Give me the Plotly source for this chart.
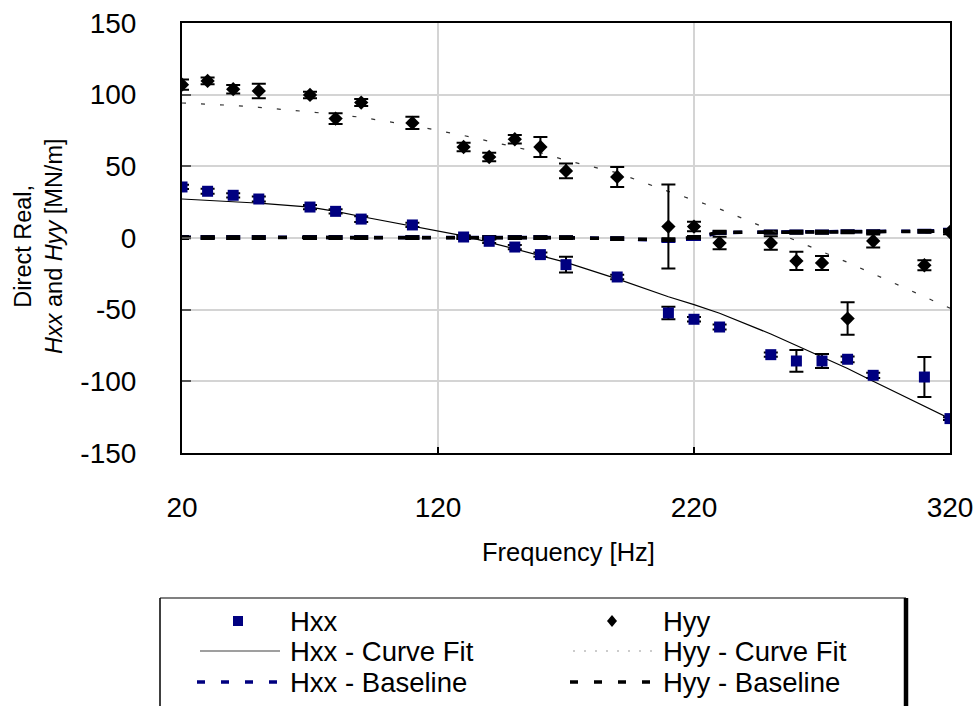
import plotly.graph_objects as go

# Measured frequencies [Hz]
freq = [20, 30, 40, 50, 70, 80, 90, 110, 130, 140, 150, 160, 170, 190,
        210, 220, 230, 250, 260, 270, 280, 290, 310, 320]

# Direct real stiffness Hxx [MN/m] and uncertainty
hxx = [35.6, 32.6, 29.8, 27.2, 21.6, 18.6, 13.2, 9.1, 0.7, -2.3, -6.3, -11.6,
       -18.6, -27.2, -52.3, -56.7, -62.1, -81.4, -85.8, -85.8, -84.6, -95.8,
       -97.0, -126.0]
hxx_err = [1.5, 1.8, 1.5, 1.8, 1.5, 1.5, 2.0, 1.5, 1.2, 1.2, 1.5, 1.5,
           5.5, 1.5, 4.3, 1.5, 1.8, 1.5, 7.6, 4.9, 2.0, 1.8, 14.0, 1.0]

# Direct real stiffness Hyy [MN/m] and uncertainty
hyy = [107.0, 109.6, 103.8, 102.6, 99.8, 83.3, 94.5, 80.3, 63.5, 56.5, 68.9,
       63.5, 46.8, 42.6, 8.0, 8.0, -3.5, -3.5, -16.0, -17.4, -56.2, -2.1,
       -19.0, 4.2]
hyy_err = [3.6, 2.3, 2.9, 5.1, 2.3, 3.7, 2.4, 4.3, 3.0, 3.0, 3.0, 7.0,
           5.1, 7.0, 29.3, 3.3, 4.3, 4.7, 6.4, 4.9, 11.3, 4.5, 3.5, 1.5]

# Curve fits evaluated at the measured frequencies
hxx_fit = [27.2, 26.3, 25.2, 24.3, 21.5, 18.6, 15.0, 8.5, 1.5, -3.0, -7.5,
           -12.0, -17.0, -28.5, -41.0, -46.5, -52.5, -67.0, -75.0, -83.0,
           -91.0, -100.0, -117.0, -126.0]
hyy_fit = [94.2, 93.5, 92.5, 91.2, 88.0, 86.3, 84.2, 78.5, 71.5, 67.5, 63.5,
           59.5, 54.2, 45.5, 32.5, 26.5, 20.3, 5.5, -2.0, -9.0, -17.0, -25.0,
           -41.0, -49.0]

# Baseline (housing alone) values and their uncertainty
hxx_base = [0.5, 0.5, 0.5, 0.5, 0.5, 0.5, 0.5, 0.5, 0.5, 0.5, 0.5, 0.5,
            0.3, -0.5, -1.8, -0.5, 3.8, 4.2, 4.2, 4.2, 4.5, 4.5, 4.8, 5.5]
hyy_base = [0.3, 0.3, 0.3, 0.3, 0.3, 0.3, 0.3, 0.3, 0.3, 0.3, 0.3, 0.3,
            0.2, -0.5, -1.2, 0.5, 4.0, 4.0, 4.0, 4.0, 4.3, 4.3, 4.6, 5.0]
base_err = [0.8, 0.8, 0.8, 0.8, 0.8, 0.8, 0.8, 0.8, 0.8, 0.8, 0.8, 0.8,
            0.8, 0.8, 0.8, 0.8, 0.8, 0.8, 0.8, 0.8, 0.8, 0.8, 0.8, 0.8]

x_ticks = [20, 120, 220, 320]
y_ticks = [-150, -100, -50, 0, 50, 100, 150]
y_tick_labels = ["-150", "-100", "-50", "0", "50", "100", "150"]

NAVY = "#000080"
FONT = "Arial, Liberation Sans, sans-serif"

# figure geometry (pixels)
FW, FH = 977, 706
L, R, T, B = 182, 950, 23, 453
PW, PH = R - L, B - T


def xp(px):
    return (px - L) / PW


def yp(py):
    return (B - py) / PH


fig = go.Figure()

fig.add_trace(go.Scatter(
    x=freq, y=hxx_base, mode="lines", name="Hxx - Baseline",
    line=dict(color=NAVY, width=3.5, dash="9px,15px"),
    error_y=dict(type="data", array=base_err, color=NAVY, thickness=2.5, width=7),
))
fig.add_trace(go.Scatter(
    x=freq, y=hyy_base, mode="lines", name="Hyy - Baseline",
    line=dict(color="black", width=3.5, dash="9px,15px"),
    error_y=dict(type="data", array=base_err, color="black", thickness=2.5, width=7),
))
fig.add_trace(go.Scatter(
    x=freq, y=hxx_fit, mode="lines", name="Hxx - Curve Fit",
    line=dict(color="black", width=1.2),
))
fig.add_trace(go.Scatter(
    x=freq, y=hyy_fit, mode="lines", name="Hyy - Curve Fit",
    line=dict(color="#333333", width=1.2, dash="4px,15px"),
))
fig.add_trace(go.Scatter(
    x=freq, y=hxx, mode="markers", name="Hxx",
    marker=dict(symbol="square", size=11, color=NAVY),
    error_y=dict(type="data", array=hxx_err, color="black", thickness=2, width=7),
))
fig.add_trace(go.Scatter(
    x=freq, y=hyy, mode="markers", name="Hyy",
    marker=dict(symbol="diamond", size=11, color="black"),
    error_y=dict(type="data", array=hyy_err, color="black", thickness=2, width=7),
))

fig.update_xaxes(
    range=[20, 320], tickvals=x_ticks, ticks="inside", ticklen=6,
    tickwidth=2, tickcolor="black", showline=True, linewidth=2,
    linecolor="black", mirror=True, showgrid=True, gridcolor="#d4d4d4",
    gridwidth=1.5, zeroline=False, ticklabelstandoff=28,
    tickfont=dict(family=FONT, size=28, color="black"),
)
fig.update_yaxes(
    range=[-150, 150], tickvals=y_ticks, ticktext=y_tick_labels,
    ticks="inside", ticklen=9,
    tickwidth=2, tickcolor="#555555", showline=True, linewidth=2,
    linecolor="black", mirror=True, showgrid=True, gridcolor="#d4d4d4",
    gridwidth=1.5, zeroline=False, ticklabelstandoff=38,
    tickfont=dict(family=FONT, size=28, color="black"),
)

annotations = [
    dict(text="Frequency [Hz]", x=xp(568), y=yp(552), xref="paper",
         yref="paper", xanchor="center", yanchor="middle", showarrow=False,
         font=dict(family=FONT, size=25.5, color="black")),
    dict(text="Direct Real,<br><i>Hxx</i> and <i>Hyy</i> [MN/m]",
         x=xp(39), y=yp(246), xref="paper", yref="paper", textangle=-90,
         xanchor="center", yanchor="middle", showarrow=False,
         font=dict(family=FONT, size=23.5, color="black")),
]

# legend box
LEG_TOP = 598
shapes = [
    dict(type="line", xref="paper", yref="paper", x0=xp(160), x1=xp(906),
         y0=yp(LEG_TOP), y1=yp(LEG_TOP), line=dict(color="#808080", width=2)),
    dict(type="line", xref="paper", yref="paper", x0=xp(160), x1=xp(160),
         y0=yp(LEG_TOP), y1=yp(FH + 5), line=dict(color="black", width=1.5)),
    dict(type="line", xref="paper", yref="paper", x0=xp(906), x1=xp(906),
         y0=yp(LEG_TOP), y1=yp(FH + 5), line=dict(color="black", width=4.5)),
]

rows = [621, 651, 682]
col_txt = [288, 661]
labels = [("Hxx", "Hyy"), ("Hxx - Curve Fit", "Hyy - Curve Fit"),
          ("Hxx - Baseline", "Hyy - Baseline")]

# row 1: marker samples
r = rows[0]
shapes.append(dict(type="rect", xref="paper", yref="paper",
                   x0=xp(233), x1=xp(243), y0=yp(r - 5), y1=yp(r + 5),
                   fillcolor=NAVY, line=dict(width=0)))
cx = 612
shapes.append(dict(type="path", xref="paper", yref="paper",
                   path=(f"M {xp(cx)},{yp(r - 6)} L {xp(cx + 5)},{yp(r)} "
                         f"L {xp(cx)},{yp(r + 6)} L {xp(cx - 5)},{yp(r)} Z"),
                   fillcolor="black", line=dict(width=0)))
# row 2: curve fit samples
r = rows[1]
shapes.append(dict(type="line", xref="paper", yref="paper", x0=xp(200),
                   x1=xp(280), y0=yp(r), y1=yp(r),
                   line=dict(color="#7f7f7f", width=1.5)))
shapes.append(dict(type="line", xref="paper", yref="paper", x0=xp(573),
                   x1=xp(655), y0=yp(r), y1=yp(r),
                   line=dict(color="#9a9a9a", width=1.2, dash="2px,9px")))
# row 3: baseline samples
r = rows[2]
shapes.append(dict(type="line", xref="paper", yref="paper", x0=xp(197),
                   x1=xp(280), y0=yp(r), y1=yp(r),
                   line=dict(color=NAVY, width=3.5, dash="8px,16px")))
shapes.append(dict(type="line", xref="paper", yref="paper", x0=xp(570),
                   x1=xp(653), y0=yp(r), y1=yp(r),
                   line=dict(color="black", width=3.5, dash="8px,16px")))

for r, (a, b) in zip(rows, labels):
    for cx, t in zip(col_txt, (a, b)):
        annotations.append(dict(
            text=t, x=xp(cx), y=yp(r), xref="paper", yref="paper",
            xanchor="left", yanchor="middle", showarrow=False,
            font=dict(family=FONT, size=27.5, color="black")))

fig.update_layout(
    width=FW, height=FH, showlegend=False,
    margin=dict(l=L, r=FW - R, t=T, b=FH - B, autoexpand=False),
    plot_bgcolor="white", paper_bgcolor="white",
    annotations=annotations, shapes=shapes,
)

fig.write_html("out.html")
